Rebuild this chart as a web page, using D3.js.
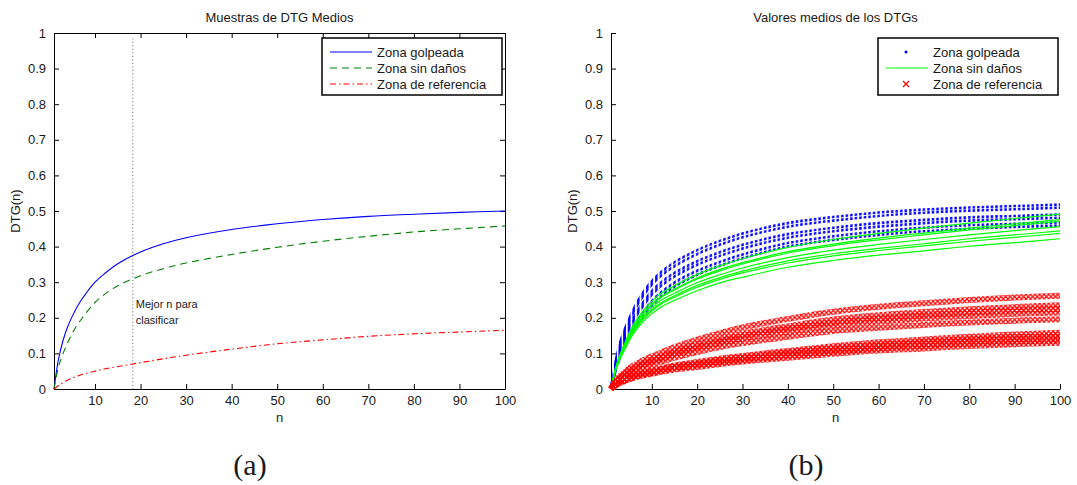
<!DOCTYPE html>
<meta charset="utf-8">
<script src="https://d3js.org/d3.v7.min.js"></script>
<style>
  body { margin: 0; background: #fff; }
  text { font-family: "Liberation Sans", Arial, sans-serif; fill: #1a1a1a; }
</style>
<div id="chart"></div>
<script>

var nKnots = [1, 2, 3, 4, 5, 6, 7, 8, 10, 12, 15, 20, 25, 30, 40, 50, 60, 70, 80, 90, 100];

// (a) mean curves
var meanGolpeada   = [0, 0.085, 0.137, 0.175, 0.204, 0.229, 0.25, 0.268, 0.3, 0.323, 0.352, 0.385, 0.408, 0.425, 0.448, 0.464, 0.476, 0.485, 0.491, 0.496, 0.5];
var meanSinDanos   = [0, 0.063, 0.1, 0.13, 0.156, 0.178, 0.196, 0.213, 0.243, 0.265, 0.29, 0.318, 0.338, 0.354, 0.378, 0.398, 0.415, 0.429, 0.441, 0.45, 0.458];
var meanReferencia = [0, 0.01, 0.018, 0.025, 0.031, 0.036, 0.04, 0.044, 0.05, 0.056, 0.063, 0.074, 0.085, 0.095, 0.112, 0.127, 0.138, 0.148, 0.155, 0.16, 0.165];
var mejorN = 18.3;

// (b) one curve per sample
var golpeadaSeries = [
  [0, 0.075, 0.13, 0.167, 0.197, 0.225, 0.249, 0.27, 0.303, 0.328, 0.356, 0.39, 0.416, 0.437, 0.466, 0.483, 0.496, 0.504, 0.51, 0.514, 0.518],
  [0, 0.072, 0.125, 0.161, 0.19, 0.217, 0.24, 0.26, 0.293, 0.318, 0.345, 0.379, 0.405, 0.426, 0.456, 0.473, 0.486, 0.495, 0.501, 0.505, 0.509],
  [0, 0.066, 0.115, 0.149, 0.176, 0.201, 0.223, 0.242, 0.275, 0.299, 0.326, 0.359, 0.384, 0.405, 0.435, 0.453, 0.466, 0.475, 0.482, 0.486, 0.49],
  [0, 0.063, 0.11, 0.143, 0.169, 0.193, 0.214, 0.232, 0.265, 0.289, 0.316, 0.349, 0.374, 0.395, 0.425, 0.443, 0.456, 0.466, 0.473, 0.477, 0.481],
  [0, 0.056, 0.099, 0.13, 0.155, 0.177, 0.197, 0.214, 0.247, 0.271, 0.299, 0.332, 0.357, 0.378, 0.41, 0.429, 0.443, 0.453, 0.46, 0.464, 0.468],
  [0, 0.05, 0.09, 0.12, 0.145, 0.166, 0.185, 0.201, 0.234, 0.259, 0.288, 0.321, 0.346, 0.367, 0.4, 0.419, 0.433, 0.443, 0.45, 0.455, 0.459]
];
var sinDanosSeries = [
  [0, 0.059, 0.098, 0.128, 0.157, 0.182, 0.201, 0.218, 0.246, 0.268, 0.29, 0.322, 0.346, 0.366, 0.398, 0.42, 0.437, 0.452, 0.466, 0.479, 0.491],
  [0, 0.057, 0.095, 0.124, 0.152, 0.176, 0.195, 0.212, 0.238, 0.259, 0.281, 0.312, 0.336, 0.355, 0.386, 0.407, 0.424, 0.438, 0.452, 0.464, 0.476],
  [0, 0.057, 0.094, 0.122, 0.151, 0.174, 0.193, 0.21, 0.236, 0.257, 0.278, 0.309, 0.332, 0.351, 0.382, 0.403, 0.419, 0.433, 0.447, 0.459, 0.471],
  [0, 0.055, 0.091, 0.119, 0.146, 0.169, 0.187, 0.203, 0.228, 0.249, 0.269, 0.299, 0.321, 0.34, 0.369, 0.39, 0.406, 0.42, 0.433, 0.445, 0.456],
  [0, 0.053, 0.089, 0.115, 0.142, 0.164, 0.182, 0.198, 0.222, 0.242, 0.262, 0.291, 0.313, 0.331, 0.36, 0.38, 0.395, 0.408, 0.422, 0.433, 0.444],
  [0, 0.052, 0.087, 0.114, 0.14, 0.162, 0.179, 0.194, 0.219, 0.238, 0.258, 0.286, 0.308, 0.326, 0.354, 0.374, 0.389, 0.402, 0.415, 0.426, 0.437],
  [0, 0.051, 0.084, 0.11, 0.135, 0.156, 0.173, 0.188, 0.211, 0.23, 0.249, 0.276, 0.298, 0.314, 0.342, 0.361, 0.376, 0.388, 0.401, 0.411, 0.422]
];
var referenciaSeries = [
  [0, 0.022, 0.037, 0.047, 0.058, 0.066, 0.073, 0.08, 0.092, 0.102, 0.118, 0.139, 0.157, 0.173, 0.197, 0.217, 0.231, 0.241, 0.25, 0.257, 0.262],
  [0, 0.02, 0.033, 0.042, 0.052, 0.059, 0.066, 0.072, 0.082, 0.092, 0.106, 0.125, 0.141, 0.155, 0.176, 0.195, 0.207, 0.216, 0.224, 0.23, 0.235],
  [0, 0.019, 0.032, 0.041, 0.05, 0.056, 0.063, 0.069, 0.079, 0.088, 0.101, 0.119, 0.135, 0.149, 0.169, 0.187, 0.198, 0.207, 0.215, 0.221, 0.225],
  [0, 0.018, 0.03, 0.039, 0.047, 0.054, 0.06, 0.066, 0.075, 0.084, 0.097, 0.114, 0.129, 0.142, 0.161, 0.178, 0.189, 0.198, 0.205, 0.211, 0.215],
  [0, 0.017, 0.027, 0.035, 0.043, 0.049, 0.055, 0.06, 0.069, 0.076, 0.088, 0.104, 0.118, 0.129, 0.147, 0.163, 0.172, 0.18, 0.187, 0.192, 0.196],
  [0, 0.013, 0.021, 0.027, 0.033, 0.038, 0.043, 0.046, 0.052, 0.058, 0.066, 0.076, 0.085, 0.093, 0.107, 0.12, 0.131, 0.139, 0.147, 0.153, 0.158],
  [0, 0.012, 0.02, 0.026, 0.032, 0.036, 0.041, 0.044, 0.05, 0.056, 0.063, 0.072, 0.082, 0.089, 0.103, 0.115, 0.125, 0.133, 0.14, 0.146, 0.151],
  [0, 0.012, 0.019, 0.024, 0.03, 0.035, 0.039, 0.042, 0.048, 0.053, 0.06, 0.069, 0.078, 0.085, 0.098, 0.109, 0.12, 0.127, 0.134, 0.14, 0.144],
  [0, 0.011, 0.018, 0.023, 0.029, 0.033, 0.037, 0.04, 0.045, 0.051, 0.058, 0.066, 0.074, 0.081, 0.093, 0.104, 0.114, 0.121, 0.127, 0.133, 0.137],
  [0, 0.01, 0.017, 0.022, 0.027, 0.031, 0.035, 0.038, 0.043, 0.048, 0.055, 0.062, 0.07, 0.077, 0.088, 0.099, 0.108, 0.114, 0.121, 0.126, 0.13]
];

var xTicks = [10, 20, 30, 40, 50, 60, 70, 80, 90, 100];
var yTicks = [0, 0.1, 0.2, 0.3, 0.4, 0.5, 0.6, 0.7, 0.8, 0.9, 1];
var yTickLabels = ["0", "0.1", "0.2", "0.3", "0.4", "0.5", "0.6", "0.7", "0.8", "0.9", "1"];
var legendLabels = ["Zona golpeada", "Zona sin daños", "Zona de referencia"];

var svg = d3.select("#chart").append("svg")
    .attr("width", 1077)
    .attr("height", 485);

// scales for both panels
var xA = d3.scaleLinear().domain([1, 100]).range([54, 505]);
var yA = d3.scaleLinear().domain([0, 1]).range([389, 33]);
var xB = d3.scaleLinear().domain([1, 100]).range([611, 1060]);
var yB = d3.scaleLinear().domain([0, 1]).range([389, 33]);

function styleAxis(g) {
  g.attr("font-size", 13).attr("font-family", "Liberation Sans, Arial, sans-serif");
  g.select(".domain").attr("stroke", "#000");
  g.selectAll(".tick line").attr("stroke", "#000");
  g.selectAll(".tick text").attr("fill", "#1a1a1a");
}

function drawAxes(x, y, box) {
  svg.append("g")
      .attr("transform", "translate(0," + y(0) + ")")
      .call(d3.axisBottom(x).tickValues(xTicks).tickSize(-5).tickSizeOuter(0).tickPadding(7))
      .call(styleAxis);
  svg.append("g")
      .attr("transform", "translate(" + x(1) + ",0)")
      .call(d3.axisLeft(y).tickValues(yTicks).tickSize(-5).tickSizeOuter(0).tickPadding(8)
        .tickFormat(function(d, i) { return yTickLabels[i]; }))
      .call(styleAxis);
  if (box) {
    svg.append("g")
        .attr("transform", "translate(0," + y(1) + ")")
        .call(d3.axisTop(x).tickValues(xTicks).tickSize(-5).tickSizeOuter(0).tickFormat(""))
        .call(styleAxis);
    svg.append("g")
        .attr("transform", "translate(" + x(100) + ",0)")
        .call(d3.axisRight(y).tickValues(yTicks).tickSize(-5).tickSizeOuter(0).tickFormat(""))
        .call(styleAxis);
  }
}

function lineFor(x, y) {
  return d3.line()
    .x(function(d, i) { return x(nKnots[i]); })
    .y(function(d) { return y(d); })
    .curve(d3.curveCatmullRom.alpha(0.5));
}

// ---------- (a) ----------
drawAxes(xA, yA, true);

svg.append("line")
    .attr("x1", xA(mejorN)).attr("x2", xA(mejorN))
    .attr("y1", yA(0.985)).attr("y2", yA(0))
    .attr("stroke", "#666").attr("stroke-width", 1)
    .attr("stroke-dasharray", "1,2.5");

var lineA = lineFor(xA, yA);
svg.append("path").datum(meanGolpeada).attr("d", lineA)
    .attr("fill", "none").attr("stroke", "#0000ff").attr("stroke-width", 1.1);
svg.append("path").datum(meanSinDanos).attr("d", lineA)
    .attr("fill", "none").attr("stroke", "#008000").attr("stroke-width", 1.1)
    .attr("stroke-dasharray", "7,5");
svg.append("path").datum(meanReferencia).attr("d", lineA)
    .attr("fill", "none").attr("stroke", "#ff0000").attr("stroke-width", 1.1)
    .attr("stroke-dasharray", "6,3,1.5,3");

svg.append("text").attr("x", xA(mejorN) + 3).attr("y", 308)
    .attr("font-size", 11).text("Mejor n para");
svg.append("text").attr("x", xA(mejorN) + 3).attr("y", 324)
    .attr("font-size", 11).text("clasificar");

svg.append("text").attr("x", (xA(1) + xA(100)) / 2).attr("y", 22)
    .attr("text-anchor", "middle").attr("font-size", 13).text("Muestras de DTG Medios");
svg.append("text").attr("x", (xA(1) + xA(100)) / 2).attr("y", 422)
    .attr("text-anchor", "middle").attr("font-size", 13).text("n");
svg.append("text").attr("transform", "translate(20," + yA(0.5) + ") rotate(-90)")
    .attr("text-anchor", "middle").attr("font-size", 13).text("DTG(n)");

// legend (a)
var legA = svg.append("g").attr("transform", "translate(322,38)");
legA.append("rect").attr("width", 180).attr("height", 57)
    .attr("fill", "#fff").attr("stroke", "#000").attr("stroke-width", 1.5);
var legStyles = [
  {stroke: "#0000ff", dash: null},
  {stroke: "#008000", dash: "7,5"},
  {stroke: "#ff0000", dash: "6,3,1.5,3"}
];
legendLabels.forEach(function(lab, i) {
  legA.append("line").attr("x1", 8).attr("x2", 50).attr("y1", 14 + i * 16).attr("y2", 14 + i * 16)
      .attr("stroke", legStyles[i].stroke).attr("stroke-width", 1.1)
      .attr("stroke-dasharray", legStyles[i].dash);
  legA.append("text").attr("x", 55).attr("y", 19 + i * 16).attr("font-size", 13).text(lab);
});

// ---------- (b) ----------
drawAxes(xB, yB, false);

// marker textures, one column per integer n
var step = xB(2) - xB(1);
var defs = svg.append("defs");
var dotPat = defs.append("pattern").attr("id", "dotPat")
    .attr("patternUnits", "userSpaceOnUse")
    .attr("x", xB(1) - step / 2).attr("y", 0)
    .attr("width", step).attr("height", 20);
dotPat.append("rect").attr("x", step / 2 - 1.2).attr("width", 2.4).attr("y", 0).attr("height", 20)
    .attr("fill", "#0000ff");

var crossH = 4.6;
var crossPat = defs.append("pattern").attr("id", "crossPat")
    .attr("patternUnits", "userSpaceOnUse")
    .attr("x", xB(1) - step / 2).attr("y", 0)
    .attr("width", step).attr("height", crossH);
crossPat.append("path")
    .attr("d", "M0,0L" + step + "," + crossH + "M" + step + ",0L0," + crossH)
    .attr("stroke", "#ff0000").attr("stroke-width", 1.2).attr("fill", "none");

var lineB = lineFor(xB, yB);
svg.selectAll(".golpeada").data(golpeadaSeries).enter().append("path")
    .attr("class", "golpeada").attr("d", lineB)
    .attr("fill", "none").attr("stroke", "url(#dotPat)").attr("stroke-width", 2.6);
svg.selectAll(".sindanos").data(sinDanosSeries).enter().append("path")
    .attr("class", "sindanos").attr("d", lineB)
    .attr("fill", "none").attr("stroke", "#00ff00").attr("stroke-width", 1.2);
svg.selectAll(".referencia").data(referenciaSeries).enter().append("path")
    .attr("class", "referencia").attr("d", lineB)
    .attr("fill", "none").attr("stroke", "url(#crossPat)").attr("stroke-width", 6);

svg.append("text").attr("x", (xB(1) + xB(100)) / 2).attr("y", 22)
    .attr("text-anchor", "middle").attr("font-size", 13).text("Valores medios de los DTGs");
svg.append("text").attr("x", (xB(1) + xB(100)) / 2).attr("y", 422)
    .attr("text-anchor", "middle").attr("font-size", 13).text("n");
svg.append("text").attr("transform", "translate(577," + yB(0.5) + ") rotate(-90)")
    .attr("text-anchor", "middle").attr("font-size", 13).text("DTG(n)");

// legend (b)
var legB = svg.append("g").attr("transform", "translate(878,38)");
legB.append("rect").attr("width", 180).attr("height", 57)
    .attr("fill", "#fff").attr("stroke", "#000").attr("stroke-width", 1.5);
legB.append("circle").attr("cx", 28).attr("cy", 14).attr("r", 1.5).attr("fill", "#0000ff");
legB.append("line").attr("x1", 8).attr("x2", 50).attr("y1", 30).attr("y2", 30)
    .attr("stroke", "#00ff00").attr("stroke-width", 1.2);
legB.append("path").attr("d", "M25,43L31,49M31,43L25,49")
    .attr("stroke", "#ff0000").attr("stroke-width", 1.2);
legendLabels.forEach(function(lab, i) {
  legB.append("text").attr("x", 55).attr("y", 19 + i * 16).attr("font-size", 13).text(lab);
});

// captions
svg.append("text").attr("x", 250).attr("y", 475).attr("text-anchor", "middle")
    .attr("font-size", 30).style("font-family", "Liberation Serif, serif").text("(a)");
svg.append("text").attr("x", 806).attr("y", 475).attr("text-anchor", "middle")
    .attr("font-size", 30).style("font-family", "Liberation Serif, serif").text("(b)");

</script>
